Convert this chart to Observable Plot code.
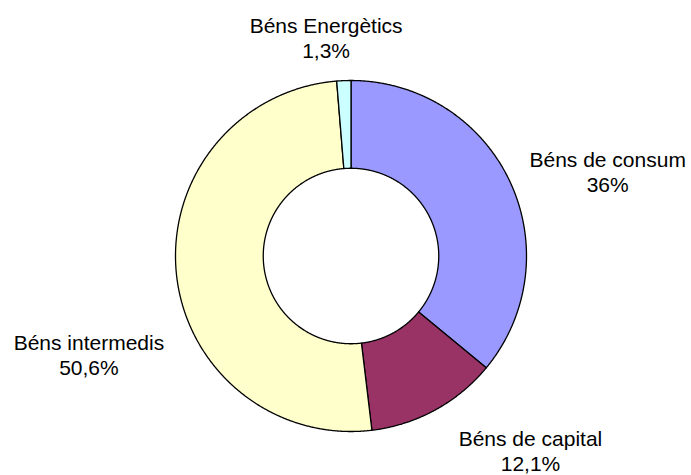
<!DOCTYPE html>
<html><head><meta charset="utf-8">
<script src="https://cdn.jsdelivr.net/npm/d3@7"></script>
<script src="https://cdn.jsdelivr.net/npm/@observablehq/plot@0.6"></script>
<style>
html,body{margin:0;padding:0;background:#fff;}
#chart svg{display:block;}
</style>
</head><body><div id="chart"></div>
<script>
// Data
const categories = ["Béns de consum", "Béns de capital", "Béns intermedis", "Béns Energètics"];
const shares = [36, 12.1, 50.6, 1.3];
const shareLabels = ["36%", "12,1%", "50,6%", "1,3%"];
const colors = ["#9999FF", "#993366", "#FFFFCC", "#CCFFFF"];

// Layout helpers (not data)
const innerRatio = 0.5;
const labelRadius = 1.1;
const labelOffset = {
  "Béns de consum":  {dx: 82,  dy: -2},
  "Béns de capital": {dx: 87,  dy: 25},
  "Béns intermedis": {dx: -70, dy: 79},
  "Béns Energètics": {dx: -17, dy: -26}
};

const total = d3.sum(shares);
let acc = 0;
const slices = categories.map((c, i) => {
  const a0 = acc / total * 2 * Math.PI;
  acc += shares[i];
  const a1 = acc / total * 2 * Math.PI;
  return {c, i, a0, a1, mid: (a0 + a1) / 2};
});

const ringPts = [];
for (const s of slices) {
  const n = Math.max(2, Math.ceil((s.a1 - s.a0) / 0.005));
  const first = {c: s.c, x: Math.sin(s.a0), y: Math.cos(s.a0)};
  for (let k = 0; k <= n; k++) {
    const a = s.a0 + (s.a1 - s.a0) * k / n;
    ringPts.push({c: s.c, x: Math.sin(a), y: Math.cos(a)});
  }
  for (let k = n; k >= 0; k--) {
    const a = s.a0 + (s.a1 - s.a0) * k / n;
    ringPts.push({c: s.c, x: innerRatio * Math.sin(a), y: innerRatio * Math.cos(a)});
  }
  ringPts.push(first);
}

const labels = slices.map(s => ({
  c: s.c,
  text: s.c + "\n" + shareLabels[s.i],
  x: labelRadius * Math.sin(s.mid),
  y: labelRadius * Math.cos(s.mid)
}));

const chart = Plot.plot({
  width: 691,
  height: 475,
  marginLeft: 175,
  marginRight: 165,
  marginTop: 80,
  marginBottom: 44,
  style: {fontFamily: "'Liberation Sans', Arial, sans-serif", background: "#fff", overflow: "visible"},
  x: {domain: [-1, 1], axis: null},
  y: {domain: [-1, 1], axis: null},
  color: {domain: categories, range: colors},
  marks: [
    Plot.line(ringPts, {x: "x", y: "y", z: "c", fill: "c", stroke: "#000", strokeWidth: 1.3, strokeLinejoin: "round"}),
    ...categories.map(c => Plot.text(labels.filter(d => d.c === c), {
      x: "x", y: "y", text: "text",
      textAnchor: "middle",
      dx: labelOffset[c].dx, dy: labelOffset[c].dy,
      fontSize: 21, lineHeight: 1.2, fill: "#000"
    }))
  ]
});
document.getElementById("chart").appendChild(chart);
</script>
</body></html>
